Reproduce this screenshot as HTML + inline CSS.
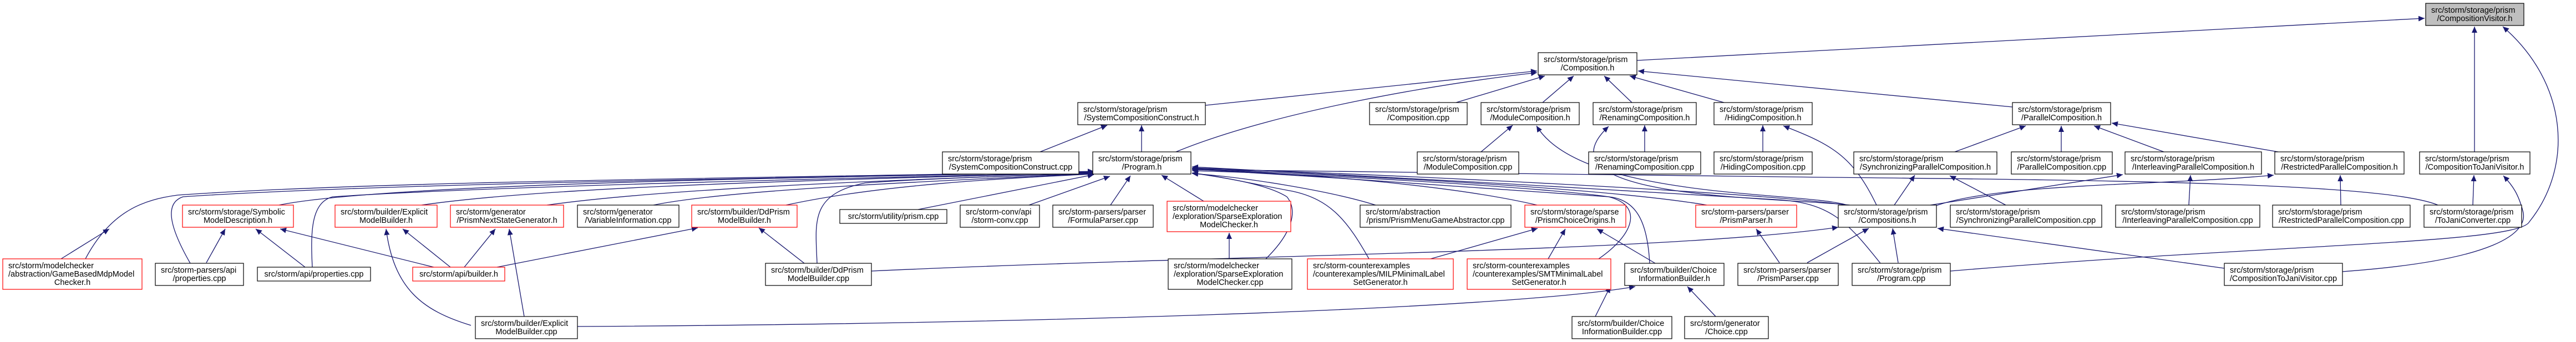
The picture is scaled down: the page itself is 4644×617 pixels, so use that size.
<!DOCTYPE html>
<html><head><meta charset="utf-8"><style>
html,body{margin:0;padding:0;background:#fff;}
svg{display:block;}
text{font-family:"Liberation Sans",sans-serif;font-size:14.5px;fill:#000;}
.e{fill:none;stroke:#191970;stroke-width:1.3;marker-end:url(#a);}
.b{fill:#fff;stroke:#000;stroke-width:1.2;}
.r{fill:#fff;stroke:#ff0000;stroke-width:1.2;}
.g{fill:#bfbfbf;stroke:#000;stroke-width:1.2;}
</style></head><body>
<svg width="4644" height="617" viewBox="0 0 4644 617" xmlns="http://www.w3.org/2000/svg">
<defs><marker id="a" markerWidth="12" markerHeight="10" refX="11" refY="5" orient="auto" markerUnits="userSpaceOnUse"><path d="M0,0 L11,5 L0,10z" fill="#191970"/></marker></defs>
<g>
<path class="e" d="M2951,109 L4371,33"/>
<path class="e" d="M3628,193 L2953,128"/>
<path class="e" d="M2173,190 L2771,128"/>
<path class="e" d="M2120,274 C2300,200 2600,150 2771,131"/>
<path class="e" d="M2625,185 L2785,137"/>
<path class="e" d="M2781,185 L2837,137"/>
<path class="e" d="M2942,185 L2892,137"/>
<path class="e" d="M3108,185 L2938,137"/>
<path class="e" d="M1875,274 L1996,226"/>
<path class="e" d="M2058,274 L2058,226"/>
<path class="e" d="M2670,274 L2727,226"/>
<path class="e" d="M2965,274 L2965,226"/>
<path class="e" d="M3178,274 L3178,226"/>
<path class="e" d="M3383,370 C3340,280 3300,260 3215,227"/>
<path class="e" d="M3330,370 C3250,345 2850,360 2770,227"/>
<path class="e" d="M3335,370 C3200,355 2760,360 2900,228"/>
<path class="e" d="M3415,370 L3452,316"/>
<path class="e" d="M3480,370 L3827,315"/>
<path class="e" d="M3488,372 C3600,330 3900,335 4099,316"/>
<path class="e" d="M3524,274 L3652,227"/>
<path class="e" d="M3716,274 L3716,227"/>
<path class="e" d="M3901,274 L3775,227"/>
<path class="e" d="M4107,274 L3807,222"/>
<path class="e" d="M3616,370 L3515,317"/>
<path class="e" d="M3946,370 L3949,316"/>
<path class="e" d="M4220,370 L4219,316"/>
<path class="e" d="M4458,370 L4460,316"/>
<path class="e" d="M4461,274 L4461,48"/>
<path class="e" d="M4223,490 C4500,470 4560,420 4548,380 C4540,350 4530,335 4513,317"/>
<path class="e" d="M3516,489 C4100,440 4540,440 4560,400 C4640,300 4630,150 4512,48"/>
<path class="e" d="M4395,370 C4300,330 3800,325 3300,320 L2149,306"/>
<path class="e" d="M4010,484 L3493,412"/>
<path class="e" d="M3258,474 L3369,412"/>
<path class="e" d="M3422,474 L3412,412"/>
<path class="e" d="M1571,489 C2200,460 3000,455 3314,410"/>
<path class="e" d="M2876,571 L2903,517"/>
<path class="e" d="M3093,571 L3042,517"/>
<path class="e" d="M1041,589 C1800,585 2700,560 2948,517"/>
<path class="e" d="M2984,475 L2879,413"/>
<path class="e" d="M2974,475 C2970,400 2950,360 2900,355 C2700,340 2400,320 2149,305"/>
<path class="e" d="M2579,467 L2772,412"/>
<path class="e" d="M2791,467 L2822,413"/>
<path class="e" d="M2468,467 C2430,400 2400,360 2330,345 C2250,330 2200,318 2149,312"/>
<path class="e" d="M2882,467 C2950,420 2960,370 2900,355 C2800,340 2400,315 2149,308"/>
<path class="e" d="M2771,370 C2600,330 2300,310 2149,306"/>
<path class="e" d="M2480,370 C2400,345 2250,320 2149,313"/>
<path class="e" d="M3077,370 C2900,340 2500,320 2149,304"/>
<path class="e" d="M3208,474 L3166,413"/>
<path class="e" d="M3330,370 C3150,345 2500,315 2149,303"/>
<path class="e" d="M3390,475 C3330,400 3300,365 3200,360 C2900,340 2400,315 2149,301"/>
<path class="e" d="M2170,363 L2094,316"/>
<path class="e" d="M2282,467 C2330,420 2340,380 2320,355 C2280,330 2200,320 2149,312"/>
<path class="e" d="M2216,467 L2216,420"/>
<path class="e" d="M2002,370 L2038,317"/>
<path class="e" d="M1855,370 L2001,318"/>
<path class="e" d="M1655,378 L1972,315"/>
<path class="e" d="M1417,370 C1600,330 1850,320 1972,314"/>
<path class="e" d="M1473,475 C1470,400 1460,350 1560,330 C1700,320 1900,315 1972,313"/>
<path class="e" d="M1178,370 C1300,345 1600,330 1972,313"/>
<path class="e" d="M986,370 C1200,340 1600,325 1972,312"/>
<path class="e" d="M760,370 C1000,335 1500,325 1972,311"/>
<path class="e" d="M503,370 C700,330 1500,320 1972,310"/>
<path class="e" d="M154,467 C200,380 260,360 320,352 C700,325 1500,320 1972,309"/>
<path class="e" d="M343,475 C300,400 300,365 330,355 C700,330 1500,320 1972,310"/>
<path class="e" d="M563,482 C560,420 560,365 600,355 C900,335 1600,320 1972,311"/>
<path class="e" d="M110,467 L197,413"/>
<path class="e" d="M372,474 L406,413"/>
<path class="e" d="M550,482 L461,413"/>
<path class="e" d="M782,482 L505,413"/>
<path class="e" d="M812,482 L726,413"/>
<path class="e" d="M849,587 C760,560 710,520 696,413"/>
<path class="e" d="M837,482 L893,413"/>
<path class="e" d="M945,571 L918,413"/>
<path class="e" d="M896,482 L1258,411"/>
<path class="e" d="M1450,475 L1368,411"/>
</g>
<g>
<rect class="g" x="4373" y="6" width="177" height="40"/><text x="4383" y="23">src/storm/storage/prism</text><text x="4461.5" y="38" text-anchor="middle">/CompositionVisitor.h</text>
<rect class="b" x="2773" y="95" width="178" height="40"/><text x="2783" y="112">src/storm/storage/prism</text><text x="2862" y="127" text-anchor="middle">/Composition.h</text>
<rect class="b" x="1943" y="185" width="230" height="40"/><text x="1953" y="202">src/storm/storage/prism</text><text x="2058" y="217" text-anchor="middle">/SystemCompositionConstruct.h</text>
<rect class="b" x="2469" y="185" width="176" height="40"/><text x="2479" y="202">src/storm/storage/prism</text><text x="2557" y="217" text-anchor="middle">/Composition.cpp</text>
<rect class="b" x="2670" y="185" width="177" height="40"/><text x="2680" y="202">src/storm/storage/prism</text><text x="2758.5" y="217" text-anchor="middle">/ModuleComposition.h</text>
<rect class="b" x="2872" y="185" width="186" height="40"/><text x="2882" y="202">src/storm/storage/prism</text><text x="2965" y="217" text-anchor="middle">/RenamingComposition.h</text>
<rect class="b" x="3090" y="185" width="177" height="40"/><text x="3100" y="202">src/storm/storage/prism</text><text x="3178.5" y="217" text-anchor="middle">/HidingComposition.h</text>
<rect class="b" x="3628" y="185" width="177" height="40"/><text x="3638" y="202">src/storm/storage/prism</text><text x="3716.5" y="217" text-anchor="middle">/ParallelComposition.h</text>
<rect class="b" x="1699" y="274" width="246" height="40"/><text x="1709" y="291">src/storm/storage/prism</text><text x="1822" y="306" text-anchor="middle">/SystemCompositionConstruct.cpp</text>
<rect class="b" x="1970" y="274" width="177" height="40"/><text x="1980" y="291">src/storm/storage/prism</text><text x="2058.5" y="306" text-anchor="middle">/Program.h</text>
<rect class="b" x="2555" y="274" width="183" height="40"/><text x="2565" y="291">src/storm/storage/prism</text><text x="2646.5" y="306" text-anchor="middle">/ModuleComposition.cpp</text>
<rect class="b" x="2864" y="274" width="202" height="40"/><text x="2874" y="291">src/storm/storage/prism</text><text x="2965" y="306" text-anchor="middle">/RenamingComposition.cpp</text>
<rect class="b" x="3090" y="274" width="177" height="40"/><text x="3100" y="291">src/storm/storage/prism</text><text x="3178.5" y="306" text-anchor="middle">/HidingComposition.cpp</text>
<rect class="b" x="3342" y="274" width="258" height="40"/><text x="3352" y="291">src/storm/storage/prism</text><text x="3471" y="306" text-anchor="middle">/SynchronizingParallelComposition.h</text>
<rect class="b" x="3626" y="274" width="182" height="40"/><text x="3636" y="291">src/storm/storage/prism</text><text x="3717" y="306" text-anchor="middle">/ParallelComposition.cpp</text>
<rect class="b" x="3831" y="274" width="246" height="40"/><text x="3841" y="291">src/storm/storage/prism</text><text x="3954" y="306" text-anchor="middle">/InterleavingParallelComposition.h</text>
<rect class="b" x="4101" y="274" width="233" height="40"/><text x="4111" y="291">src/storm/storage/prism</text><text x="4217.5" y="306" text-anchor="middle">/RestrictedParallelComposition.h</text>
<rect class="b" x="4362" y="274" width="199" height="40"/><text x="4372" y="291">src/storm/storage/prism</text><text x="4461.5" y="306" text-anchor="middle">/CompositionToJaniVisitor.h</text>

<rect class="r" x="329" y="370" width="200" height="40"/><text x="339" y="387">src/storm/storage/Symbolic</text><text x="429" y="402" text-anchor="middle">ModelDescription.h</text>
<rect class="r" x="604" y="370" width="184" height="40"/><text x="614" y="387">src/storm/builder/Explicit</text><text x="696" y="402" text-anchor="middle">ModelBuilder.h</text>
<rect class="r" x="812" y="370" width="204" height="40"/><text x="822" y="387">src/storm/generator</text><text x="914" y="402" text-anchor="middle">/PrismNextStateGenerator.h</text>
<rect class="b" x="1041" y="370" width="183" height="40"/><text x="1051" y="387">src/storm/generator</text><text x="1132.5" y="402" text-anchor="middle">/VariableInformation.cpp</text>
<rect class="r" x="1247" y="370" width="190" height="40"/><text x="1257" y="387">src/storm/builder/DdPrism</text><text x="1342" y="402" text-anchor="middle">ModelBuilder.h</text>
<rect class="b" x="1514" y="378" width="193" height="25"/><text x="1610.5" y="395" text-anchor="middle">src/storm/utility/prism.cpp</text>
<rect class="b" x="1731" y="370" width="143" height="40"/><text x="1741" y="387">src/storm-conv/api</text><text x="1802.5" y="402" text-anchor="middle">/storm-conv.cpp</text>
<rect class="b" x="1898" y="370" width="181" height="40"/><text x="1908" y="387">src/storm-parsers/parser</text><text x="1988.5" y="402" text-anchor="middle">/FormulaParser.cpp</text>
<rect class="r" x="2104" y="363" width="223" height="55"/><text x="2114" y="380">src/storm/modelchecker</text><text x="2114" y="395">/exploration/SparseExploration</text><text x="2215.5" y="410" text-anchor="middle">ModelChecker.h</text>
<rect class="b" x="2452" y="370" width="272" height="40"/><text x="2462" y="387">src/storm/abstraction</text><text x="2588" y="402" text-anchor="middle">/prism/PrismMenuGameAbstractor.cpp</text>
<rect class="r" x="2749" y="370" width="182" height="40"/><text x="2759" y="387">src/storm/storage/sparse</text><text x="2840" y="402" text-anchor="middle">/PrismChoiceOrigins.h</text>
<rect class="r" x="3057" y="370" width="182" height="40"/><text x="3067" y="387">src/storm-parsers/parser</text><text x="3148" y="402" text-anchor="middle">/PrismParser.h</text>
<rect class="b" x="3314" y="370" width="177" height="40"/><text x="3324" y="387">src/storm/storage/prism</text><text x="3402.5" y="402" text-anchor="middle">/Compositions.h</text>
<rect class="b" x="3516" y="370" width="273" height="40"/><text x="3526" y="387">src/storm/storage/prism</text><text x="3652.5" y="402" text-anchor="middle">/SynchronizingParallelComposition.cpp</text>
<rect class="b" x="3814" y="370" width="260" height="40"/><text x="3824" y="387">src/storm/storage/prism</text><text x="3944" y="402" text-anchor="middle">/InterleavingParallelComposition.cpp</text>
<rect class="b" x="4097" y="370" width="248" height="40"/><text x="4107" y="387">src/storm/storage/prism</text><text x="4221" y="402" text-anchor="middle">/RestrictedParallelComposition.cpp</text>
<rect class="b" x="4370" y="370" width="176" height="40"/><text x="4380" y="387">src/storm/storage/prism</text><text x="4458" y="402" text-anchor="middle">/ToJaniConverter.cpp</text>

<rect class="r" x="5" y="467" width="251" height="55"/><text x="15" y="484">src/storm/modelchecker</text><text x="15" y="499">/abstraction/GameBasedMdpModel</text><text x="130.5" y="514" text-anchor="middle">Checker.h</text>
<rect class="b" x="280" y="475" width="159" height="40"/><text x="290" y="492">src/storm-parsers/api</text><text x="359.5" y="507" text-anchor="middle">/properties.cpp</text>
<rect class="b" x="464" y="482" width="204" height="25"/><text x="566" y="499" text-anchor="middle">src/storm/api/properties.cpp</text>
<rect class="r" x="744" y="482" width="166" height="25"/><text x="827" y="499" text-anchor="middle">src/storm/api/builder.h</text>
<rect class="b" x="1380" y="475" width="191" height="40"/><text x="1390" y="492">src/storm/builder/DdPrism</text><text x="1475.5" y="507" text-anchor="middle">ModelBuilder.cpp</text>
<rect class="b" x="2106" y="467" width="223" height="55"/><text x="2116" y="484">src/storm/modelchecker</text><text x="2116" y="499">/exploration/SparseExploration</text><text x="2217.5" y="514" text-anchor="middle">ModelChecker.cpp</text>
<rect class="r" x="2357" y="467" width="263" height="55"/><text x="2367" y="484">src/storm-counterexamples</text><text x="2367" y="499">/counterexamples/MILPMinimalLabel</text><text x="2488.5" y="514" text-anchor="middle">SetGenerator.h</text>
<rect class="r" x="2645" y="467" width="259" height="55"/><text x="2655" y="484">src/storm-counterexamples</text><text x="2655" y="499">/counterexamples/SMTMinimalLabel</text><text x="2774.5" y="514" text-anchor="middle">SetGenerator.h</text>
<rect class="b" x="2929" y="475" width="179" height="40"/><text x="2939" y="492">src/storm/builder/Choice</text><text x="3018.5" y="507" text-anchor="middle">InformationBuilder.h</text>
<rect class="b" x="3133" y="475" width="181" height="40"/><text x="3143" y="492">src/storm-parsers/parser</text><text x="3223.5" y="507" text-anchor="middle">/PrismParser.cpp</text>
<rect class="b" x="3339" y="475" width="177" height="40"/><text x="3349" y="492">src/storm/storage/prism</text><text x="3427.5" y="507" text-anchor="middle">/Program.cpp</text>
<rect class="b" x="4010" y="475" width="213" height="40"/><text x="4020" y="492">src/storm/storage/prism</text><text x="4116.5" y="507" text-anchor="middle">/CompositionToJaniVisitor.cpp</text>

<rect class="b" x="857" y="571" width="184" height="40"/><text x="867" y="588">src/storm/builder/Explicit</text><text x="949" y="603" text-anchor="middle">ModelBuilder.cpp</text>
<rect class="b" x="2834" y="571" width="180" height="40"/><text x="2844" y="588">src/storm/builder/Choice</text><text x="2924" y="603" text-anchor="middle">InformationBuilder.cpp</text>
<rect class="b" x="3037" y="571" width="151" height="40"/><text x="3047" y="588">src/storm/generator</text><text x="3112.5" y="603" text-anchor="middle">/Choice.cpp</text>
</g>
</svg>
</body></html>
